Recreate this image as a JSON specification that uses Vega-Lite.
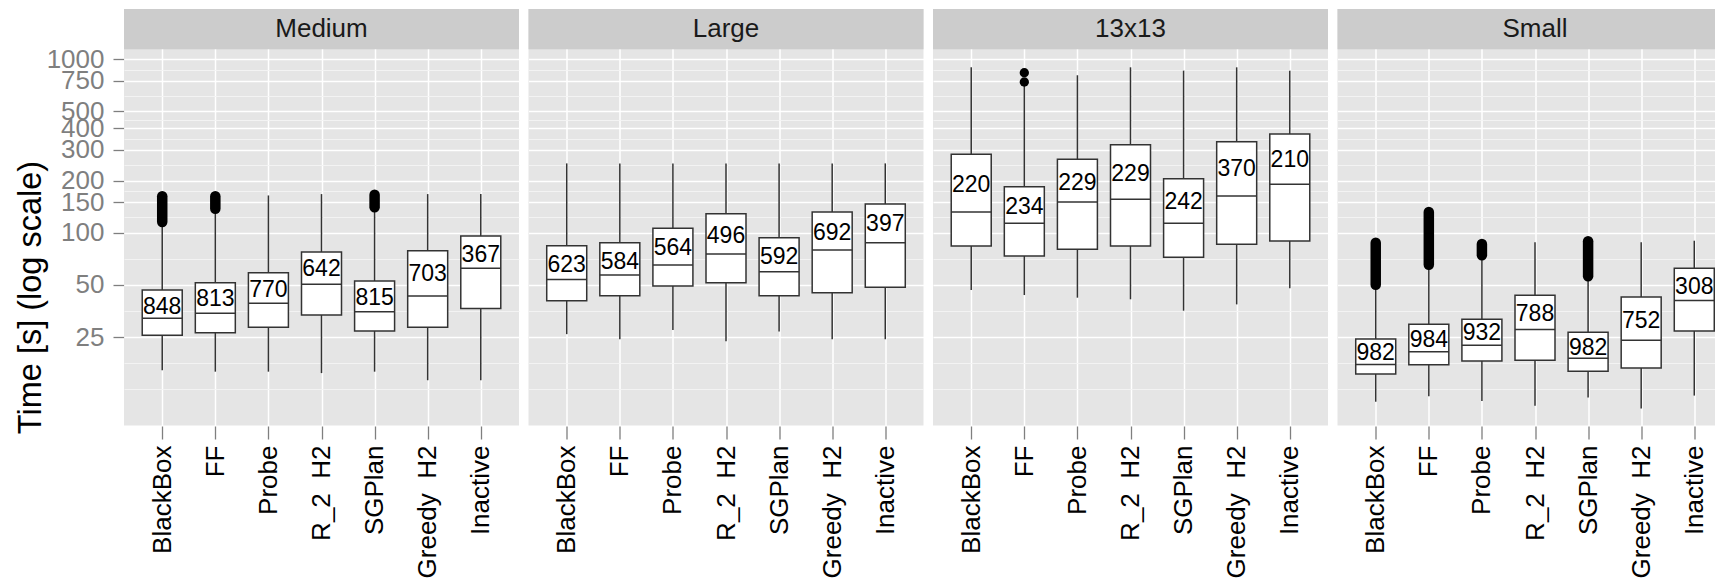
{
  "$schema": "https://vega.github.io/schema/vega-lite/v6.json",
  "background": "white",
  "padding": {"left": 14, "top": 9, "right": 0, "bottom": 0},
  "data": {
    "values": [
      {"kind": "strip", "panel": "Medium"},
      {"kind": "strip", "panel": "Large"},
      {"kind": "strip", "panel": "13x13"},
      {"kind": "strip", "panel": "Small"},

      {"kind": "box", "panel": "Medium", "planner": "BlackBox", "lower": 16.1, "q1": 25.6, "median": 32.1, "q3": 46.7, "upper": 113, "mean": 37.4, "n": "848"},
      {"kind": "box", "panel": "Medium", "planner": "FF", "lower": 15.8, "q1": 26.5, "median": 34.3, "q3": 51.5, "upper": 136, "mean": 41.3, "n": "813"},
      {"kind": "box", "panel": "Medium", "planner": "Probe", "lower": 15.8, "q1": 28.5, "median": 39.2, "q3": 58.8, "upper": 164, "mean": 46.7, "n": "770"},
      {"kind": "box", "panel": "Medium", "planner": "R_2 \u00a0H2", "lower": 15.5, "q1": 33.5, "median": 50.4, "q3": 77.4, "upper": 167, "mean": 61.5, "n": "642"},
      {"kind": "box", "panel": "Medium", "planner": "SGPlan", "lower": 15.8, "q1": 27.1, "median": 35.0, "q3": 52.7, "upper": 139, "mean": 41.8, "n": "815"},
      {"kind": "box", "panel": "Medium", "planner": "Greedy \u00a0H2", "lower": 14.1, "q1": 28.5, "median": 43.1, "q3": 78.7, "upper": 167, "mean": 57.5, "n": "703"},
      {"kind": "box", "panel": "Medium", "planner": "Inactive", "lower": 14.1, "q1": 36.6, "median": 62.3, "q3": 95.7, "upper": 167, "mean": 74.3, "n": "367"},

      {"kind": "box", "panel": "Large", "planner": "BlackBox", "lower": 26.0, "q1": 40.5, "median": 53.8, "q3": 84.2, "upper": 251, "mean": 65.1, "n": "623"},
      {"kind": "box", "panel": "Large", "planner": "FF", "lower": 24.3, "q1": 43.3, "median": 57.0, "q3": 87.6, "upper": 251, "mean": 68.0, "n": "584"},
      {"kind": "box", "panel": "Large", "planner": "Probe", "lower": 27.5, "q1": 49.3, "median": 65.1, "q3": 106.0, "upper": 251, "mean": 81.3, "n": "564"},
      {"kind": "box", "panel": "Large", "planner": "R_2 \u00a0H2", "lower": 23.7, "q1": 51.5, "median": 75.4, "q3": 128.7, "upper": 251, "mean": 96.1, "n": "496"},
      {"kind": "box", "panel": "Large", "planner": "SGPlan", "lower": 26.9, "q1": 43.3, "median": 59.6, "q3": 93.6, "upper": 251, "mean": 72.7, "n": "592"},
      {"kind": "box", "panel": "Large", "planner": "Greedy \u00a0H2", "lower": 24.3, "q1": 45.1, "median": 79.5, "q3": 131.6, "upper": 251, "mean": 100, "n": "692"},
      {"kind": "box", "panel": "Large", "planner": "Inactive", "lower": 24.3, "q1": 48.4, "median": 87.6, "q3": 146.4, "upper": 251, "mean": 111.8, "n": "397"},

      {"kind": "box", "panel": "13x13", "planner": "BlackBox", "lower": 46.7, "q1": 83.8, "median": 131.6, "q3": 283.2, "upper": 899, "mean": 188.4, "n": "220"},
      {"kind": "box", "panel": "13x13", "planner": "FF", "lower": 43.7, "q1": 73.4, "median": 113.3, "q3": 184.2, "upper": 715, "mean": 141.2, "n": "234"},
      {"kind": "box", "panel": "13x13", "planner": "Probe", "lower": 42.2, "q1": 80.2, "median": 150.3, "q3": 265.0, "upper": 809, "mean": 194.2, "n": "229"},
      {"kind": "box", "panel": "13x13", "planner": "R_2 \u00a0H2", "lower": 41.3, "q1": 83.8, "median": 155.8, "q3": 321.8, "upper": 899, "mean": 217.2, "n": "229"},
      {"kind": "box", "panel": "13x13", "planner": "SGPlan", "lower": 35.5, "q1": 72.1, "median": 113.3, "q3": 204.8, "upper": 860, "mean": 150.3, "n": "242"},
      {"kind": "box", "panel": "13x13", "planner": "Greedy \u00a0H2", "lower": 38.6, "q1": 85.7, "median": 162.8, "q3": 334.9, "upper": 899, "mean": 232.1, "n": "370"},
      {"kind": "box", "panel": "13x13", "planner": "Inactive", "lower": 47.8, "q1": 89.6, "median": 190.2, "q3": 370.9, "upper": 860, "mean": 262.6, "n": "210"},

      {"kind": "box", "panel": "Small", "planner": "BlackBox", "lower": 10.6, "q1": 15.3, "median": 17.4, "q3": 24.4, "upper": 49, "mean": 20.2, "n": "982"},
      {"kind": "box", "panel": "Small", "planner": "FF", "lower": 11.4, "q1": 17.3, "median": 20.6, "q3": 29.7, "upper": 64, "mean": 24.1, "n": "984"},
      {"kind": "box", "panel": "Small", "planner": "Probe", "lower": 10.7, "q1": 18.2, "median": 22.4, "q3": 31.7, "upper": 73, "mean": 26.3, "n": "932"},
      {"kind": "box", "panel": "Small", "planner": "R_2 \u00a0H2", "lower": 10.05, "q1": 18.4, "median": 27.7, "q3": 43.6, "upper": 88.1, "mean": 33.8, "n": "788"},
      {"kind": "box", "panel": "Small", "planner": "SGPlan", "lower": 11.2, "q1": 15.9, "median": 18.9, "q3": 26.7, "upper": 55, "mean": 21.5, "n": "982"},
      {"kind": "box", "panel": "Small", "planner": "Greedy \u00a0H2", "lower": 9.7, "q1": 16.6, "median": 24.0, "q3": 42.6, "upper": 88.1, "mean": 31.0, "n": "752"},
      {"kind": "box", "panel": "Small", "planner": "Inactive", "lower": 11.5, "q1": 27.1, "median": 40.7, "q3": 62.3, "upper": 89.9, "mean": 48.8, "n": "308"},

      {"kind": "out", "panel": "Medium", "planner": "BlackBox", "lo": 115.3, "hi": 162.5},
      {"kind": "out", "panel": "Medium", "planner": "FF", "lo": 137.5, "hi": 162.5},
      {"kind": "out", "panel": "Medium", "planner": "SGPlan", "lo": 140.1, "hi": 165.7},
      {"kind": "out", "panel": "Small", "planner": "BlackBox", "lo": 50.1, "hi": 87.6},
      {"kind": "out", "panel": "Small", "planner": "FF", "lo": 65.4, "hi": 131.6},
      {"kind": "out", "panel": "Small", "planner": "Probe", "lo": 74.1, "hi": 86.1},
      {"kind": "out", "panel": "Small", "planner": "SGPlan", "lo": 56.1, "hi": 89.2},

      {"kind": "pt", "panel": "13x13", "planner": "FF", "val": 837},
      {"kind": "pt", "panel": "13x13", "planner": "FF", "val": 740}
    ]
  },
  "facet": {
    "column": {"field": "panel", "type": "nominal", "sort": ["Medium", "Large", "13x13", "Small"], "header": null}
  },
  "spacing": {"column": 9.5, "row": 0},
  "spec": {
    "width": 395,
    "height": 416.5,
    "layer": [
      {
        "transform": [{"filter": "datum.kind === 'strip'"}],
        "mark": {"type": "rect", "color": "#cccccc"},
        "encoding": {
          "y": {"datum": 1142, "type": "quantitative", "scale": {"type": "log", "domain": [7.73, 1950], "nice": false, "zero": false}, "title": "Time [s] (log scale)"},
          "y2": {"datum": 1950}
        }
      },
      {
        "transform": [{"filter": "datum.kind === 'strip'"}],
        "mark": {"type": "text", "fontSize": 26, "color": "#1a1a1a", "baseline": "middle", "align": "center", "font": "Liberation Sans"},
        "encoding": {
          "y": {"datum": 1492, "type": "quantitative", "scale": {"type": "log", "domain": [7.73, 1950], "nice": false, "zero": false}, "title": "Time [s] (log scale)"},
          "text": {"field": "panel", "type": "nominal"}
        }
      },
      {
        "transform": [{"filter": "datum.kind === 'box'"}],
        "mark": {"type": "rule", "color": "#333333", "strokeWidth": 1.5},
        "encoding": {
          "x": {
            "field": "planner", "type": "nominal",
            "sort": ["BlackBox", "FF", "Probe", "R_2 \u00a0H2", "SGPlan", "Greedy \u00a0H2", "Inactive"],
            "scale": {"type": "point", "padding": 0.72},
            "axis": {
              "title": null, "domain": false, "grid": true, "gridColor": "white", "gridWidth": 1.5,
              "tickColor": "#7f7f7f", "tickSize": 13, "tickWidth": 1.3,
              "labelAngle": 270, "labelFontSize": 26, "labelColor": "black", "labelPadding": 6, "labelFont": "Liberation Sans"
            }
          },
          "y": {
            "field": "lower", "type": "quantitative",
            "scale": {"type": "log", "domain": [7.73, 1950], "nice": false, "zero": false},
            "title": "Time [s] (log scale)",
            "axis": {
              "values": [12.5, 17.68, 25, 35.36, 50, 70.71, 100, 122.5, 150, 173.2, 200, 244.9, 300, 346.4, 400, 447.2, 500, 612.4, 750, 866, 1000],
              "labelExpr": "indexof([25,50,100,150,200,300,400,500,750,1000], datum.value) >= 0 ? datum.value : ''",
              "labelOverlap": false,
              "labelFontSize": 26, "labelColor": "#7f7f7f", "labelPadding": 9, "labelFont": "Liberation Sans",
              "tickSize": 11, "tickWidth": 1.3, "tickColor": "#7f7f7f",
              "tickOpacity": {"condition": {"test": "indexof([25,50,100,150,200,300,400,500,750,1000], datum.value) >= 0", "value": 1}, "value": 0},
              "grid": true,
              "gridColor": {"condition": {"test": "indexof([25,50,100,150,200,300,400,500,750,1000], datum.value) >= 0", "value": "#ffffff"}, "value": "#f4f4f4"},
              "gridWidth": {"condition": {"test": "indexof([25,50,100,150,200,300,400,500,750,1000], datum.value) >= 0", "value": 1.5}, "value": 0.9},
              "domain": false,
              "titleFontSize": 32.5, "titleFontWeight": "normal", "titleColor": "black", "titleFont": "Liberation Sans",
              "titleX": -77, "titleY": 288, "titleAngle": 270, "titleBaseline": "bottom", "titleAlign": "center"
            }
          },
          "y2": {"field": "upper"}
        }
      },
      {
        "transform": [{"filter": "datum.kind === 'out'"}],
        "mark": {"type": "rule", "color": "black", "strokeWidth": 10.5, "strokeCap": "round"},
        "encoding": {
          "x": {"field": "planner", "type": "nominal", "sort": ["BlackBox", "FF", "Probe", "R_2 \u00a0H2", "SGPlan", "Greedy \u00a0H2", "Inactive"], "scale": {"type": "point", "padding": 0.72}},
          "y": {"field": "lo", "type": "quantitative", "scale": {"type": "log", "domain": [7.73, 1950], "nice": false, "zero": false}, "title": "Time [s] (log scale)"},
          "y2": {"field": "hi"}
        }
      },
      {
        "transform": [{"filter": "datum.kind === 'pt'"}],
        "mark": {"type": "circle", "color": "black", "size": 87, "opacity": 1},
        "encoding": {
          "x": {"field": "planner", "type": "nominal", "sort": ["BlackBox", "FF", "Probe", "R_2 \u00a0H2", "SGPlan", "Greedy \u00a0H2", "Inactive"], "scale": {"type": "point", "padding": 0.72}},
          "y": {"field": "val", "type": "quantitative", "scale": {"type": "log", "domain": [7.73, 1950], "nice": false, "zero": false}, "title": "Time [s] (log scale)"}
        }
      },
      {
        "transform": [{"filter": "datum.kind === 'box'"}],
        "mark": {"type": "bar", "fill": "white", "stroke": "#333333", "strokeWidth": 1.5, "size": 40},
        "encoding": {
          "x": {"field": "planner", "type": "nominal", "sort": ["BlackBox", "FF", "Probe", "R_2 \u00a0H2", "SGPlan", "Greedy \u00a0H2", "Inactive"], "scale": {"type": "point", "padding": 0.72}},
          "y": {"field": "q1", "type": "quantitative", "scale": {"type": "log", "domain": [7.73, 1950], "nice": false, "zero": false}, "title": "Time [s] (log scale)"},
          "y2": {"field": "q3"}
        }
      },
      {
        "transform": [{"filter": "datum.kind === 'box'"}],
        "mark": {"type": "tick", "color": "#333333", "size": 40, "thickness": 1.5, "opacity": 1},
        "encoding": {
          "x": {"field": "planner", "type": "nominal", "sort": ["BlackBox", "FF", "Probe", "R_2 \u00a0H2", "SGPlan", "Greedy \u00a0H2", "Inactive"], "scale": {"type": "point", "padding": 0.72}},
          "y": {"field": "median", "type": "quantitative", "scale": {"type": "log", "domain": [7.73, 1950], "nice": false, "zero": false}, "title": "Time [s] (log scale)"}
        }
      },
      {
        "transform": [{"filter": "datum.kind === 'box'"}],
        "mark": {"type": "text", "fontSize": 23, "color": "black", "baseline": "middle", "align": "center", "font": "Liberation Sans"},
        "encoding": {
          "x": {"field": "planner", "type": "nominal", "sort": ["BlackBox", "FF", "Probe", "R_2 \u00a0H2", "SGPlan", "Greedy \u00a0H2", "Inactive"], "scale": {"type": "point", "padding": 0.72}},
          "y": {"field": "mean", "type": "quantitative", "scale": {"type": "log", "domain": [7.73, 1950], "nice": false, "zero": false}, "title": "Time [s] (log scale)"},
          "text": {"field": "n", "type": "nominal"}
        }
      }
    ]
  },
  "config": {
    "view": {"fill": "#e5e5e5", "stroke": null},
    "font": "Liberation Sans"
  }
}
